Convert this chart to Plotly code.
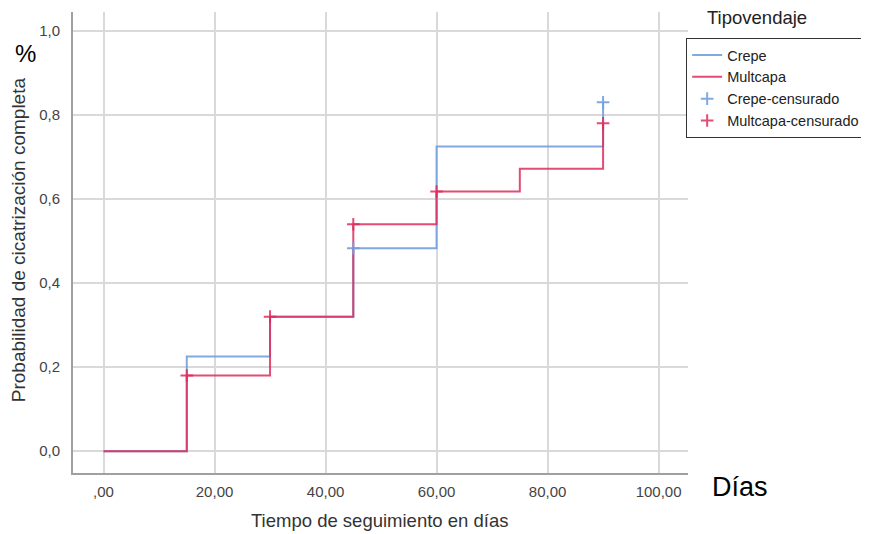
import plotly.graph_objects as go

# Data
crepe_t = [0, 15, 30, 45, 60, 90]
crepe_p = [0.0, 0.225, 0.32, 0.483, 0.725, 0.83]
multi_t = [0, 15, 30, 45, 60, 75, 90]
multi_p = [0.0, 0.18, 0.32, 0.54, 0.618, 0.672, 0.78]
crepe_cens_t = [45, 90]
crepe_cens_p = [0.483, 0.83]
multi_cens_t = [15, 30, 45, 60, 90]
multi_cens_p = [0.18, 0.32, 0.54, 0.618, 0.78]

x_tickvals = [0, 20, 40, 60, 80, 100]
x_ticktext = [",00", "20,00", "40,00", "60,00", "80,00", "100,00"]
y_tickvals = [0, 0.2, 0.4, 0.6, 0.8, 1.0]
y_ticktext = ["0,0", "0,2", "0,4", "0,6", "0,8", "1,0"]

BLUE = "rgba(115,160,222,0.9)"
RED = "rgba(222,45,90,0.85)"
FONT = "Liberation Sans, Arial, sans-serif"

fig = go.Figure()
fig.add_trace(go.Scatter(x=crepe_t, y=crepe_p, mode="lines", line=dict(color=BLUE, width=2, shape="hv"),
                         name="Crepe"))
fig.add_trace(go.Scatter(x=multi_t, y=multi_p, mode="lines", line=dict(color=RED, width=2, shape="hv"),
                         name="Multcapa"))
fig.add_trace(go.Scatter(x=crepe_cens_t, y=crepe_cens_p, mode="markers",
                         marker=dict(symbol="cross-thin", size=9, line=dict(color=BLUE, width=2)),
                         name="Crepe-censurado"))
fig.add_trace(go.Scatter(x=multi_cens_t, y=multi_cens_p, mode="markers",
                         marker=dict(symbol="cross-thin", size=9, line=dict(color=RED, width=2)),
                         name="Multcapa-censurado"))

# page body adds an 8px offset, so the figure is 861x526 and margins are shifted by 8px
fig.update_layout(
    width=861, height=526,
    margin=dict(l=65, r=181, t=4, b=61, autoexpand=False),
    paper_bgcolor="white", plot_bgcolor="white",
    font=dict(family=FONT, size=15, color="#444"),
    showlegend=True,
    legend=dict(x=0.997, xanchor="left", y=0.9436, yanchor="top",
                bordercolor="#333", borderwidth=1, bgcolor="white",
                font=dict(size=14.5, color="#222"), itemwidth=30, tracegroupgap=0),
    xaxis=dict(range=[-5.5, 105.3], tickvals=x_tickvals, ticktext=x_ticktext,
               showgrid=True, gridcolor="#d9d9d9", gridwidth=1.5, zeroline=False,
               showline=True, linecolor="#a0a0a0", linewidth=2, ticks="",
               ticklabelstandoff=4, automargin=False),
    yaxis=dict(range=[-0.052, 1.045], tickvals=y_tickvals, ticktext=y_ticktext,
               showgrid=True, gridcolor="#d9d9d9", gridwidth=1.5, zeroline=False,
               showline=True, linecolor="#a0a0a0", linewidth=2, ticks="",
               ticklabelstandoff=8, automargin=False),
    annotations=[
        dict(text="Probabilidad de cicatrización completa", textangle=-90, xref="paper", yref="paper",
             x=-0.0894, y=0.505, xanchor="center", yanchor="middle", showarrow=False,
             font=dict(size=19, color="#333")),
        dict(text="Tiempo de seguimiento en días", xref="paper", yref="paper",
             x=0.4976, y=-0.104, xanchor="center", yanchor="middle", showarrow=False,
             font=dict(size=18.5, color="#333")),
        dict(text="Tipovendaje", xref="paper", yref="paper", x=1.0276, y=0.989, xanchor="left", yanchor="middle",
             showarrow=False, font=dict(size=18.5, color="#222")),
        dict(text="%", xref="paper", yref="paper", x=-0.078, y=0.909, xanchor="center", yanchor="middle",
             showarrow=False, font=dict(size=24, color="black")),
        dict(text="Días", xref="paper", yref="paper", x=1.0846, y=-0.030, xanchor="center", yanchor="middle",
             showarrow=False, font=dict(size=27, color="black")),
    ],
)

fig.write_html("out.html")
